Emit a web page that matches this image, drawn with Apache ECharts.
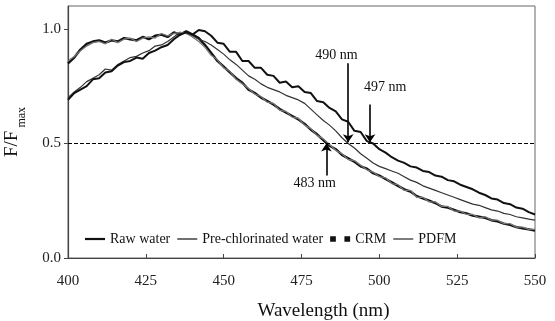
<!DOCTYPE html>
<html><head><meta charset="utf-8">
<script src="https://cdn.jsdelivr.net/npm/echarts@6/dist/echarts.min.js"></script>
<style>html,body{margin:0;padding:0;background:#fff}#c{width:555px;height:321px}</style>
</head><body><div id="c"></div>
<script>
const wavelengths = [400,402,404,406,408,410,412,414,416,418,420,422,424,426,428,430,432,434,436,438,440,442,444,446,448,450,452,454,456,458,460,462,464,466,468,470,472,474,476,478,480,482,484,486,488,490,492,494,496,498,500,502,504,506,508,510,512,514,516,518,520,522,524,526,528,530,532,534,536,538,540,542,544,546,548,550];
const rawWater = [0.69,0.72,0.735,0.75,0.78,0.785,0.81,0.815,0.84,0.855,0.86,0.875,0.87,0.895,0.905,0.92,0.93,0.955,0.975,0.985,0.975,0.995,0.99,0.97,0.94,0.935,0.90,0.90,0.86,0.86,0.83,0.83,0.80,0.795,0.765,0.77,0.745,0.75,0.725,0.72,0.685,0.68,0.655,0.64,0.605,0.595,0.555,0.55,0.51,0.50,0.475,0.46,0.44,0.425,0.415,0.40,0.395,0.38,0.375,0.36,0.355,0.34,0.335,0.32,0.31,0.30,0.285,0.275,0.26,0.255,0.24,0.235,0.22,0.215,0.20,0.19];
const preChlorinated = [0.70,0.725,0.745,0.77,0.785,0.80,0.825,0.82,0.845,0.86,0.875,0.88,0.895,0.905,0.925,0.93,0.945,0.965,0.985,0.98,0.97,0.955,0.945,0.93,0.91,0.89,0.865,0.845,0.82,0.795,0.78,0.76,0.745,0.735,0.725,0.71,0.70,0.69,0.675,0.65,0.625,0.60,0.58,0.555,0.525,0.50,0.48,0.455,0.435,0.415,0.40,0.39,0.38,0.37,0.355,0.34,0.33,0.315,0.305,0.295,0.285,0.275,0.265,0.255,0.245,0.235,0.23,0.22,0.21,0.205,0.195,0.19,0.18,0.175,0.17,0.165];
const crm = [0.85,0.875,0.91,0.935,0.945,0.95,0.94,0.95,0.945,0.96,0.955,0.95,0.965,0.955,0.97,0.975,0.965,0.985,0.975,0.99,0.975,0.96,0.93,0.895,0.86,0.835,0.81,0.785,0.765,0.735,0.72,0.70,0.685,0.67,0.65,0.635,0.62,0.605,0.585,0.56,0.54,0.515,0.49,0.475,0.45,0.435,0.42,0.40,0.39,0.37,0.36,0.345,0.33,0.315,0.30,0.29,0.27,0.26,0.25,0.24,0.225,0.22,0.21,0.20,0.195,0.185,0.18,0.175,0.165,0.16,0.15,0.145,0.135,0.13,0.125,0.12];
const pdfm = [0.86,0.88,0.905,0.925,0.94,0.945,0.935,0.955,0.94,0.955,0.96,0.945,0.96,0.965,0.96,0.98,0.97,0.98,0.985,0.98,0.965,0.945,0.92,0.885,0.865,0.83,0.815,0.78,0.76,0.74,0.715,0.705,0.68,0.675,0.645,0.64,0.615,0.61,0.58,0.565,0.535,0.52,0.495,0.47,0.455,0.43,0.425,0.405,0.385,0.375,0.355,0.35,0.325,0.32,0.295,0.295,0.265,0.265,0.245,0.245,0.225,0.225,0.205,0.205,0.19,0.19,0.175,0.18,0.165,0.165,0.15,0.15,0.135,0.135,0.125,0.125];
const seriesNames = ['Raw water','Pre-chlorinated water','CRM','PDFM'];
const xTicks = [400,425,450,475,500,525,550];
const yTicks = [0.0,0.5,1.0];
const halfLevel = 0.5;
const annWl = [490,497,483];
const annFrom = [0.85,0.67,0.36];
const annTo = [0.505,0.505,0.5];
const annText = ['490 nm','497 nm','483 nm'];
const annLabelAt = [[486.2,0.883],[501.9,0.743],[479.2,0.326]];

const pairs = arr => wavelengths.map((w,i)=>[w,arr[i]]);
const font = '"Liberation Serif","Times New Roman",serif';

const chart = echarts.init(document.getElementById('c'),null,{renderer:'canvas'});
const arrowLines = annWl.map((w,i)=>[{coord:[w,annFrom[i]],symbol:'none'},{coord:[w,annTo[i]],symbol:'arrow'}]);
chart.setOption({
  animation:false,
  backgroundColor:'#fff',
  grid:{left:68,right:20,top:6,bottom:63,containLabel:false,outerBoundsMode:'none',show:true,borderColor:'#666',borderWidth:1},
  legend:{
    left:80, top:227, itemWidth:20, itemHeight:10, itemGap:7,
    textStyle:{fontFamily:font,fontSize:14,color:'#111'},
    data:[
      {name:seriesNames[0],icon:'path://M0,0h20v2.2h-20z',itemStyle:{color:'#111'}},
      {name:seriesNames[1],icon:'path://M0,0h20v1.3h-20z',itemStyle:{color:'#222'}},
      {name:seriesNames[2],icon:'path://M0,0h4v4h-4zM10,0h4v4h-4z',itemStyle:{color:'#111'}},
      {name:seriesNames[3],icon:'path://M0,0h20v1.4h-20z',itemStyle:{color:'#444'}}
    ]
  },
  xAxis:{
    type:'value',min:400,max:550,interval:25,
    name:'Wavelength (nm)',nameLocation:'middle',nameGap:44,
    nameTextStyle:{fontFamily:font,fontSize:19,color:'#111',padding:[0,0,0,44]},
    axisLine:{lineStyle:{color:'#444',width:1.2}},
    axisTick:{inside:true,length:4,lineStyle:{color:'#444'}},
    axisLabel:{fontFamily:font,fontSize:15,color:'#222',margin:16},
    splitLine:{show:false}
  },
  yAxis:{
    type:'value',min:0,max:1.1,interval:0.5,
    name:'{a|F/F}{b| max}',nameLocation:'middle',nameGap:46,nameRotate:90,
    nameTextStyle:{rich:{a:{fontFamily:font,fontSize:19,color:'#111',verticalAlign:'bottom'},b:{fontFamily:font,fontSize:12,color:'#111',verticalAlign:'bottom',padding:[0,0,-6,0]}}},
    axisLine:{show:true,lineStyle:{color:'#444',width:1.2}},
    axisTick:{show:true,length:4,lineStyle:{color:'#444'}},
    axisLabel:{fontFamily:font,fontSize:15,color:'#222',margin:7,showMaxLabel:false,
      formatter:v=> yTicks.some(t=>Math.abs(t-v)<1e-9) ? v.toFixed(1) : ''},
    splitLine:{show:false}
  },
  series:[
    {name:seriesNames[0],type:'line',data:pairs(rawWater),symbol:'none',lineStyle:{color:'#111',width:2},itemStyle:{color:'#111'},z:5,
     markLine:{silent:true,symbolSize:[0,0],label:{show:false},lineStyle:{color:'#000',width:1,type:[4,2]},data:[{yAxis:halfLevel,symbol:'none'}]}},
    {name:seriesNames[1],type:'line',data:pairs(preChlorinated),symbol:'none',lineStyle:{color:'#333',width:1.2},itemStyle:{color:'#333'},z:4},
    {name:seriesNames[2],type:'line',data:pairs(crm),symbol:'none',lineStyle:{color:'#111',width:2.4},itemStyle:{color:'#111'},z:3,
     markLine:{silent:true,symbolSize:8,label:{show:false},lineStyle:{color:'#000',width:1.6,type:'solid'},data:arrowLines}},
    {name:seriesNames[3],type:'line',data:pairs(pdfm),symbol:'none',lineStyle:{color:'#777',width:1.3},itemStyle:{color:'#777'},z:4,
     markPoint:{silent:true,symbol:'circle',symbolSize:1,itemStyle:{color:'rgba(0,0,0,0)'},
       label:{show:true,position:'inside',fontFamily:font,fontSize:14,color:'#111',formatter:p=>p.name},
       data:annText.map((t,i)=>({name:t,coord:annLabelAt[i]}))}}
  ]
});
</script></body></html>
